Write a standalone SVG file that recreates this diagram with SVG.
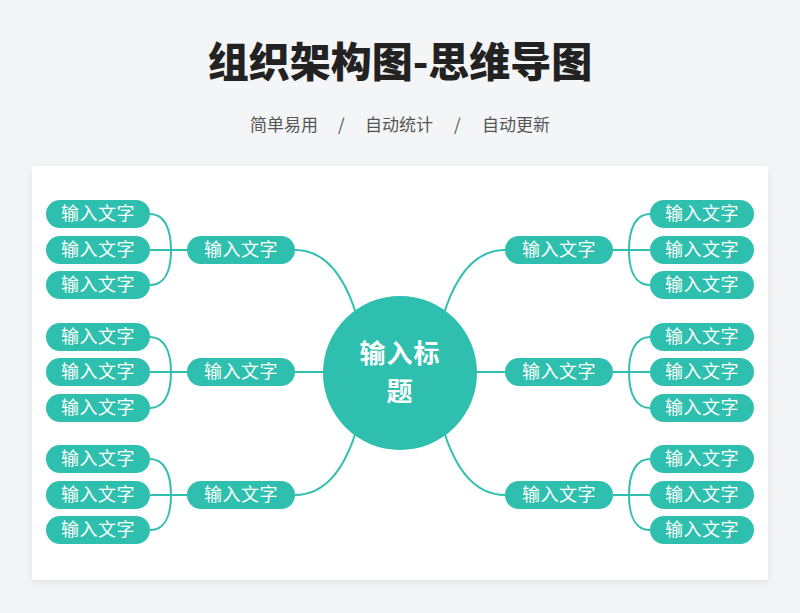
<svg xmlns="http://www.w3.org/2000/svg" width="800" height="613" viewBox="0 0 800 613">
<defs>
<filter id="sh" x="-5%" y="-5%" width="110%" height="115%">
<feDropShadow dx="0" dy="3" stdDeviation="4" flood-color="#000" flood-opacity="0.08"/>
</filter>
<style>
.title{font-family:"Noto Sans CJK SC","Liberation Sans",sans-serif;font-weight:900;font-size:41px;fill:#222;}
.sub{font-family:"Noto Sans CJK SC","Liberation Sans",sans-serif;font-size:17px;fill:#555;}
.pill{fill:#2ebfae;}
.pt{font-family:"Noto Sans CJK SC","Liberation Sans",sans-serif;font-size:18px;fill:#fff;text-anchor:middle;letter-spacing:0.5px;}
.ct{font-family:"Noto Sans CJK SC","Liberation Sans",sans-serif;font-size:26px;font-weight:700;fill:#fff;text-anchor:middle;letter-spacing:1px;}
.ln{fill:none;stroke:#2ebfae;stroke-width:2;}
</style>
</defs>
<rect x="0" y="0" width="800" height="613" fill="#f4f5f7"/>
<text class="title" x="400" y="77" text-anchor="middle">组织架构图-思维导图</text>
<g class="sub">
<text x="250" y="131">简单易用</text>
<text x="338" y="131">/</text>
<text x="365" y="131">自动统计</text>
<text x="454" y="131">/</text>
<text x="482" y="131">自动更新</text>
</g>
<rect x="32" y="166" width="736" height="414" fill="#fff" filter="url(#sh)"/>
<g id="connectors" class="ln">
<path d="M295,250 C330,250 348,285 358,320"/>
<path d="M295,372 L330,372"/>
<path d="M295,495 C330,495 348,460 358,425"/>
<path d="M505,250 C470,250 452,285 442,320"/>
<path d="M505,372 L470,372"/>
<path d="M505,495 C470,495 452,460 442,425"/>
<path d="M150,214 C164,214 171,228 171,250 C171,272 164,285 150,285 M150,250 L187,250"/>
<path d="M150,337 C164,337 171,351 171,372 C171,394 164,408 150,408 M150,372 L187,372"/>
<path d="M150,459 C164,459 171,473 171,495 C171,517 164,530 150,530 M150,495 L187,495"/>
<path d="M650,214 C636,214 629,228 629,250 C629,272 636,285 650,285 M650,250 L613,250"/>
<path d="M650,337 C636,337 629,351 629,372 C629,394 636,408 650,408 M650,372 L613,372"/>
<path d="M650,459 C636,459 629,473 629,495 C629,517 636,530 650,530 M650,495 L613,495"/>
</g>
<g id="center"><circle cx="400" cy="373" r="77" class="pill"/><text class="ct" x="400" y="363">输入标</text><text class="ct" x="400" y="401">题</text></g>
<g id="m1"><rect class="pill" x="187" y="236" width="108" height="28" rx="14"/><text class="pt" x="241" y="256">输入文字</text></g>
<g id="m2"><rect class="pill" x="187" y="358" width="108" height="28" rx="14"/><text class="pt" x="241" y="378">输入文字</text></g>
<g id="m3"><rect class="pill" x="187" y="481" width="108" height="28" rx="14"/><text class="pt" x="241" y="501">输入文字</text></g>
<g id="m4"><rect class="pill" x="505" y="236" width="108" height="28" rx="14"/><text class="pt" x="559" y="256">输入文字</text></g>
<g id="m5"><rect class="pill" x="505" y="358" width="108" height="28" rx="14"/><text class="pt" x="559" y="378">输入文字</text></g>
<g id="m6"><rect class="pill" x="505" y="481" width="108" height="28" rx="14"/><text class="pt" x="559" y="501">输入文字</text></g>
<g id="l1"><rect class="pill" x="46" y="200" width="104" height="28" rx="14"/><text class="pt" x="98" y="220">输入文字</text></g>
<g id="l2"><rect class="pill" x="46" y="236" width="104" height="28" rx="14"/><text class="pt" x="98" y="256">输入文字</text></g>
<g id="l3"><rect class="pill" x="46" y="271" width="104" height="28" rx="14"/><text class="pt" x="98" y="291">输入文字</text></g>
<g id="l4"><rect class="pill" x="46" y="323" width="104" height="28" rx="14"/><text class="pt" x="98" y="343">输入文字</text></g>
<g id="l5"><rect class="pill" x="46" y="358" width="104" height="28" rx="14"/><text class="pt" x="98" y="378">输入文字</text></g>
<g id="l6"><rect class="pill" x="46" y="394" width="104" height="28" rx="14"/><text class="pt" x="98" y="414">输入文字</text></g>
<g id="l7"><rect class="pill" x="46" y="445" width="104" height="28" rx="14"/><text class="pt" x="98" y="465">输入文字</text></g>
<g id="l8"><rect class="pill" x="46" y="481" width="104" height="28" rx="14"/><text class="pt" x="98" y="501">输入文字</text></g>
<g id="l9"><rect class="pill" x="46" y="516" width="104" height="28" rx="14"/><text class="pt" x="98" y="536">输入文字</text></g>
<g id="r1"><rect class="pill" x="650" y="200" width="104" height="28" rx="14"/><text class="pt" x="702" y="220">输入文字</text></g>
<g id="r2"><rect class="pill" x="650" y="236" width="104" height="28" rx="14"/><text class="pt" x="702" y="256">输入文字</text></g>
<g id="r3"><rect class="pill" x="650" y="271" width="104" height="28" rx="14"/><text class="pt" x="702" y="291">输入文字</text></g>
<g id="r4"><rect class="pill" x="650" y="323" width="104" height="28" rx="14"/><text class="pt" x="702" y="343">输入文字</text></g>
<g id="r5"><rect class="pill" x="650" y="358" width="104" height="28" rx="14"/><text class="pt" x="702" y="378">输入文字</text></g>
<g id="r6"><rect class="pill" x="650" y="394" width="104" height="28" rx="14"/><text class="pt" x="702" y="414">输入文字</text></g>
<g id="r7"><rect class="pill" x="650" y="445" width="104" height="28" rx="14"/><text class="pt" x="702" y="465">输入文字</text></g>
<g id="r8"><rect class="pill" x="650" y="481" width="104" height="28" rx="14"/><text class="pt" x="702" y="501">输入文字</text></g>
<g id="r9"><rect class="pill" x="650" y="516" width="104" height="28" rx="14"/><text class="pt" x="702" y="536">输入文字</text></g>
</svg>
